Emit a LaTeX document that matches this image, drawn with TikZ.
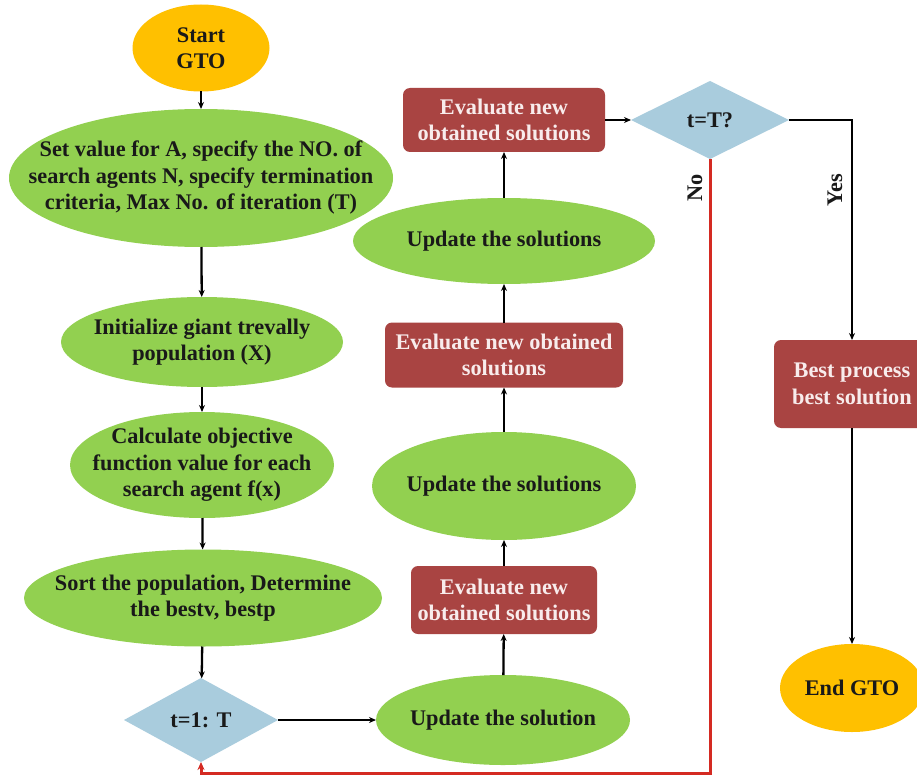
\documentclass[tikz,border=0pt]{standalone}
\usepackage{fontspec}
\setmainfont{Liberation Serif}
\usetikzlibrary{shapes.geometric,arrows.meta}
\definecolor{gfill}{HTML}{92D050}
\definecolor{ofill}{HTML}{FFC000}
\definecolor{rfill}{HTML}{A94442}
\definecolor{bfill}{HTML}{A9CCDD}
\definecolor{rline}{HTML}{D42A22}
\definecolor{ptext}{HTML}{F8ECEC}
\begin{document}
\begin{tikzpicture}[x=1pt,y=-1pt,
  txt/.style={align=center,font=\bfseries\fontsize{22.3}{26.5}\selectfont,inner sep=0pt,text=black!90},
  wtxt/.style={txt,text=ptext},
  gell/.style={ellipse,fill=gfill,inner sep=0pt,outer sep=0pt},
  oell/.style={ellipse,fill=ofill,inner sep=0pt,outer sep=0pt},
  rbox/.style={rectangle,rounded corners=7pt,fill=rfill,inner sep=0pt,outer sep=0pt},
  bdia/.style={diamond,fill=bfill,inner sep=0pt,outer sep=0pt},
  arr/.style={draw=black,line width=2.3pt,-{Stealth[length=7pt,width=6pt]}},
  redarr/.style={draw=rline,line width=3pt,-{Stealth[length=8pt,width=7pt]}}]
\clip (0,0) rectangle (917,778);
\fill[white] (0,0) rectangle (917,778);

% left column
\node[oell,minimum width=137,minimum height=87,label={[txt]center:{Start\\GTO}}] (start) at (201,48) {};
\node[gell,minimum width=384,minimum height=138,label={[txt]center:{Set value for A, specify the NO. of\\search agents N, specify termination\\criteria, Max No. of iteration (T)}}] (setv) at (201,178) {};
\node[gell,minimum width=282,minimum height=90,label={[txt]center:{Initialize giant trevally\\population (X)}}] (init) at (202,342) {};
\node[gell,minimum width=264,minimum height=106,label={[txt]center:{Calculate objective\\function value for each\\search agent f(x)}}] (calc) at (202,465) {};
\node[gell,minimum width=358,minimum height=97,label={[txt]center:{Sort the population, Determine\\the bestv, bestp}}] (sort) at (203,598) {};
\node[bdia,minimum width=154,minimum height=84,label={[txt]center:{t=1: T}}] (loop) at (201,720) {};

% middle column
\node[gell,minimum width=254,minimum height=90,label={[txt]center:{Update the solution}}] (upd1) at (503,720) {};
\node[rbox,minimum width=186,minimum height=68,label={[wtxt]center:{Evaluate new\\obtained solutions}}] (ev1) at (504,600) {};
\node[gell,minimum width=264,minimum height=108,label={[txt]center:{Update the solutions}}] (upd2) at (504,486) {};
\node[rbox,minimum width=238,minimum height=65,label={[wtxt]center:{Evaluate new obtained\\solutions}}] (ev2) at (504,355) {};
\node[gell,minimum width=302,minimum height=86,label={[txt]center:{Update the solutions}}] (upd3) at (504,241) {};
\node[rbox,minimum width=202,minimum height=64,label={[wtxt]center:{Evaluate new\\obtained solutions}}] (ev3) at (504,120) {};

% right side
\node[bdia,minimum width=158,minimum height=78,label={[txt]center:{t=T?}}] (check) at (710,120) {};
\node[rbox,minimum width=156,minimum height=88,label={[wtxt]center:{Best process\\best solution}}] (best) at (852,384) {};
\node[oell,minimum width=144,minimum height=88,label={[txt]center:{End GTO}}] (endn) at (852,688) {};

\node[txt,rotate=90] (nolab) at (695,188) {No};
\node[txt,rotate=90] (yeslab) at (835,190) {Yes};

% connectors
\draw[arr] (start) -- (setv);
\draw[arr] (setv) -- (init);
\draw[arr] (init) -- (calc);
\draw[arr] (calc) -- (sort);
\draw[arr] (sort) -- (loop);
\draw[arr] (loop.east) -- (upd1.west);
\draw[arr] (upd1) -- (ev1);
\draw[arr] (ev1) -- (upd2);
\draw[arr] (upd2) -- (ev2);
\draw[arr] (ev2) -- (upd3);
\draw[arr] (upd3) -- (ev3);
\draw[arr] (ev3.east) -- (check.west);
\draw[arr] (check.east) -| (best.north);
\draw[arr] (best) -- (endn);
\coordinate (bot) at (0,773);
\draw[redarr] (check.south) -- (check.south |- bot) -| (loop.south);
\end{tikzpicture}
\end{document}
